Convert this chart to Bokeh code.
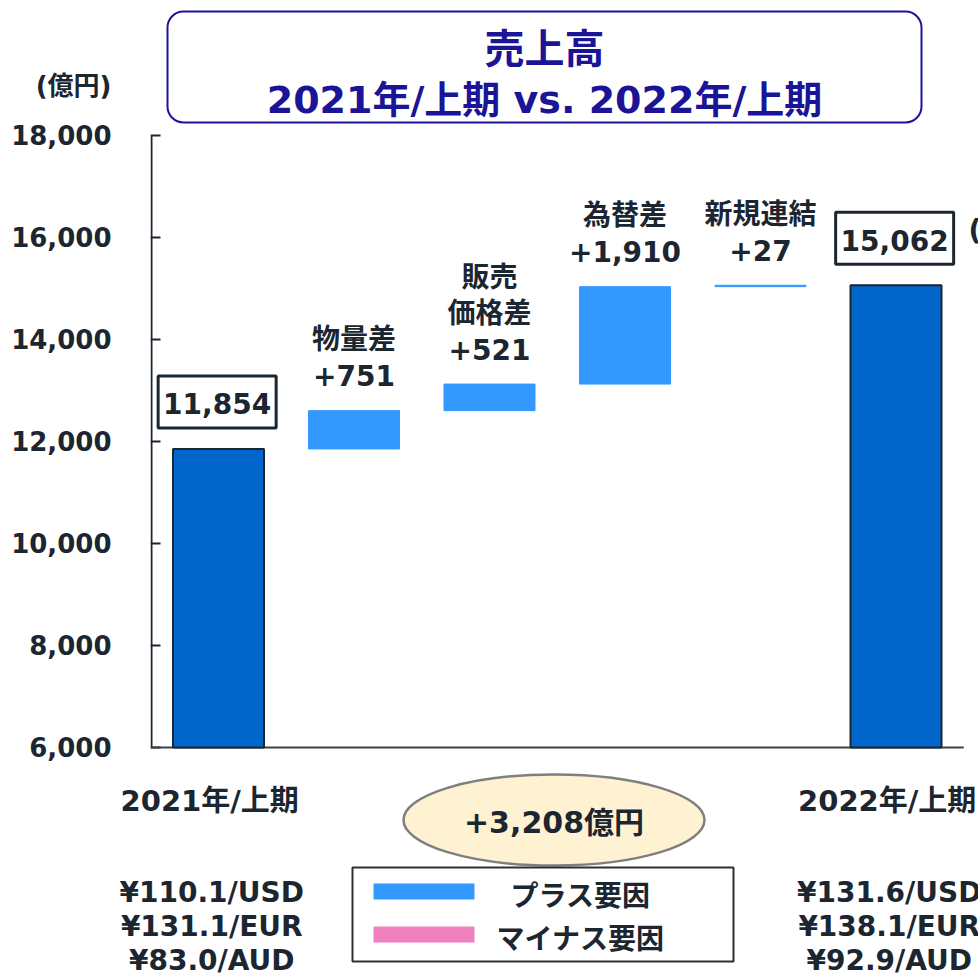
from bokeh.plotting import figure
from bokeh.models import Range1d, FixedTicker, NumeralTickFormatter
from bokeh.core.properties import value
from bokeh.embed import file_html
from bokeh.resources import INLINE

# ---------------- data ----------------
categories = ["2021年/上期", "物量差", "販売価格差", "為替差", "新規連結", "2022年/上期"]
start_value = 11854
end_value = 15062
delta_values = [751, 521, 1910, 27]
delta_labels = [["物量差"], ["販売", "価格差"], ["為替差"], ["新規連結"]]
y_ticks = [6000, 8000, 10000, 12000, 14000, 16000, 18000]
total_change_label = "+3,208億円"
fx_2021 = ["¥110.1/USD", "¥131.1/EUR", "¥83.0/AUD"]
fx_2022 = ["¥131.6/USD", "¥138.1/EUR", "¥92.9/AUD"]
legend_labels = ["プラス要因", "マイナス要因"]
title_lines = ["売上高", "2021年/上期 vs. 2022年/上期"]
unit_label = "(億円)"

# ---------------- styles / layout ----------------
DARK = "#1C2630"
NAVY = "#1B1497"
TOTAL_FILL = "#0066CC"
PLUS_FILL = "#3399FF"
MINUS_FILL = "#F080C0"
FONT_STACK = "'DejaVu Sans', 'Noto Sans CJK JP', sans-serif"
FONT = value(FONT_STACK)

W = 978
MAIN_H, BOT_H = 770, 206
LEFT = 150
C0, STEP = 218.0, 135.5          # pixel x of first category, pixels per category


def cat(px):  # page pixel x -> category units
    return (px - C0) / STEP


PPU = 0.051                       # pixels per 1 unit of value (main panel)
Y_TOP = y_ticks[-1] + 135 / PPU
Y_BOT = y_ticks[0] - (MAIN_H - 747) / PPU


def up(v, px):  # raise value v by px pixels in the main panel
    return v + px / PPU


def vy(py):  # page pixel y -> value units of main panel
    return up(y_ticks[-1], 135 - py)


def txt(f, x, y, s, size="28px", color=DARK, align="center"):
    f.text(x=[x], y=[y], text=[s], text_font=FONT, text_font_size=size,
           text_font_style="bold", text_color=color, text_align=align,
           text_baseline="middle")


# ---------------- main panel: title + waterfall ----------------
p = figure(width=W, height=MAIN_H, output_backend="svg", toolbar_location=None,
           x_range=Range1d(cat(LEFT), cat(W)), y_range=Range1d(Y_BOT, Y_TOP),
           x_axis_location=None, min_border_left=LEFT, min_border_right=0,
           min_border_top=0, min_border_bottom=0)
p.outline_line_color = None
p.xgrid.visible = False
p.ygrid.visible = False

# title box
p.quad(left=[cat(167)], right=[cat(921)], top=[vy(11)], bottom=[vy(122)],
       fill_color="white", line_color=NAVY, line_width=2, border_radius=16)
txt(p, cat(544), vy(48), title_lines[0], size="40px", color=NAVY)
txt(p, cat(544), vy(99), title_lines[1], size="38px", color=NAVY)

# y axis: labels from the axis; the unit is shown as an extra labelled tick
unit_tick = int(round(vy(86)))
ax = p.yaxis[0]
ax.ticker = FixedTicker(ticks=y_ticks + [unit_tick])
ax.formatter = NumeralTickFormatter(format="0,0")
ax.major_label_overrides = {unit_tick: unit_label}
ax.axis_line_color = None
ax.major_tick_line_color = None
ax.minor_tick_line_color = None
ax.major_tick_out = 0
ax.major_tick_in = 0
ax.major_label_standoff = 39
ax.major_label_text_font = FONT_STACK
ax.major_label_text_font_size = "26px"
ax.major_label_text_font_style = "bold"
ax.major_label_text_color = DARK

# axis spine and inward ticks
p.segment(x0=[cat(LEFT + 1)], x1=[cat(LEFT + 1)], y0=[y_ticks[0]], y1=[y_ticks[-1]],
          line_color=DARK, line_width=2)
p.segment(x0=[cat(LEFT)] * len(y_ticks), x1=[cat(LEFT + 10)] * len(y_ticks),
          y0=y_ticks, y1=y_ticks, line_color=DARK, line_width=2)

xs = list(range(len(categories)))
BAR_W = 91 / STEP

# baseline
p.segment(x0=[xs[0] - 0.5], x1=[xs[-1] + 0.5], y0=[y_ticks[0]], y1=[y_ticks[0]],
          line_color="#3A4148", line_width=2)

# totals
p.vbar(x=[xs[0], xs[-1]], bottom=y_ticks[0], top=[start_value, end_value], width=BAR_W,
       fill_color=TOTAL_FILL, line_color=DARK, line_width=2)

# steps
bottoms, tops = [], []
run = start_value
for d in delta_values:
    bottoms.append(run)
    run += d
    tops.append(run)
p.vbar(x=xs[1:-1], bottom=bottoms, top=tops, width=BAR_W,
       fill_color=PLUS_FILL, line_color=PLUS_FILL, line_width=1)

# step labels
for i, (d, lines, t) in enumerate(zip(delta_values, delta_labels, tops)):
    all_lines = lines + [f"+{d:,}"]
    n = len(all_lines)
    for k, s in enumerate(all_lines):
        txt(p, xs[i + 1], up(t, 35 + 36 * (n - 1 - k)), s)

# total value boxes
for x, v in [(xs[0], start_value), (xs[-1], end_value)]:
    p.rect(x=[x - 0.01], y=[up(v, 47)], width=118, height=52, width_units="screen",
           height_units="screen", fill_color="white", line_color=DARK, line_width=3)
    txt(p, x - 0.01, up(v, 45), f"{v:,}")

# clipped note at right edge
txt(p, cat(968), up(end_value, 55), "(", align="left")

# ---------------- bottom panel: labels, total change, legend ----------------
OFF = MAIN_H
bot = figure(width=W, height=BOT_H, output_backend="svg", toolbar_location=None,
             x_range=Range1d(cat(0), cat(W)), y_range=Range1d(BOT_H, 0),
             x_axis_location=None, y_axis_location=None,
             min_border_left=0, min_border_right=0, min_border_top=0, min_border_bottom=0)
bot.outline_line_color = None
bot.xgrid.visible = False
bot.ygrid.visible = False

for x, c in [(xs[0], categories[0]), (xs[-1], categories[-1])]:
    txt(bot, x - 0.065, 800 - OFF, c, size="29px")

for x, rates in [(xs[0], fx_2021), (xs[-1], fx_2022)]:
    for k, r in enumerate(rates):
        txt(bot, x - 0.05, 892 + 34 * k - OFF, r, size="28px")

bot.ellipse(x=[cat(553.5)], y=[819.5 - OFF], width=301, height=91, width_units="screen",
            height_units="screen", fill_color="#FFF2D2", line_color="#7F7F7F", line_width=2.5)
txt(bot, cat(553.5), 822 - OFF, total_change_label, size="30px")

bot.quad(left=[cat(352)], right=[cat(733)], top=[867 - OFF], bottom=[961 - OFF],
         fill_color="white", line_color="#2A3036", line_width=2)
for k, (lab, col) in enumerate(zip(legend_labels, [PLUS_FILL, MINUS_FILL])):
    yc = 891 + 43 * k - OFF
    bot.quad(left=[cat(373)], right=[cat(474)], top=[yc - 8], bottom=[yc + 8],
             fill_color=col, line_color=None)
    txt(bot, cat(580), yc + 5, lab)

open("out.html", "w").write(file_html([p, bot], INLINE))
